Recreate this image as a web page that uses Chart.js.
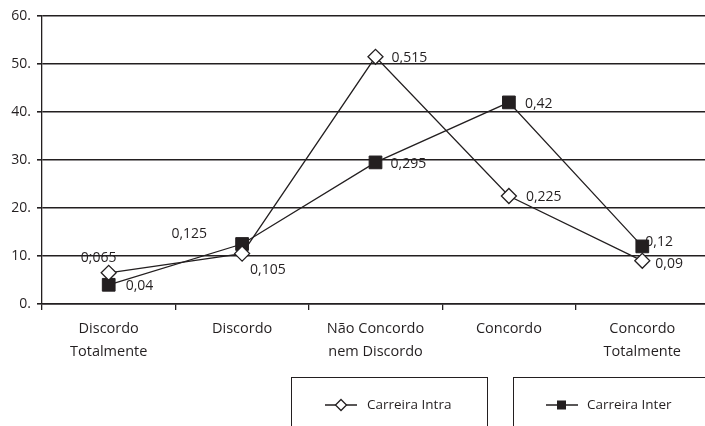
<!DOCTYPE html>
<html>
<head>
<meta charset="utf-8">
<script src="https://cdn.jsdelivr.net/npm/chart.js@4"></script>
<style>
  html, body { margin: 0; padding: 0; background: #fff; overflow: hidden; }
  #wrap { position: relative; width: 719px; height: 426px; }
</style>
</head>
<body>
<div id="wrap"><canvas id="lineChart"></canvas></div>
<script>
// Categories and values (percent)
const categories = [
    ['Discordo', 'Totalmente'],
    'Discordo',
    ['Não Concordo', 'nem Discordo'],
    'Concordo',
    ['Concordo', 'Totalmente']
];
const intraValues = [6.5, 10.5, 51.5, 22.5, 9];
const interValues = [4, 12.5, 29.5, 42, 12];
const intraLabels = ['0;065', '0,105', '0,515', '0,225', '0,09'];
const interLabels = ['0,04', '0,125', '0,295', '0,42', '0,12'];
const yTicks = [0, 10, 20, 30, 40, 50, 60];

const INK = '#231f20';
const FONT = '"Open Sans", "Noto Sans", sans-serif';

// label placement relative to the point: [dx, dy, align]
const intraLabelPos = [[-10, -15, 'center'], [8, 16, 'left'], [16, 1, 'left'], [17, 1, 'left'], [13, 3, 'left']];
const interLabelPos = [[17, 1, 'left'], [-35, -10, 'right'], [15, 2, 'left'], [16, 2, 'left'], [3, -4, 'left']];

const pointLabels = {
    id: 'pointLabels',
    afterDatasetsDraw(chart) {
        const ctx = chart.ctx;
        ctx.save();
        ctx.font = '14px ' + FONT;
        ctx.fillStyle = INK;
        ctx.textBaseline = 'middle';
        const sets = [[0, intraLabels, intraLabelPos], [1, interLabels, interLabelPos]];
        sets.forEach(([di, texts, pos]) => {
            chart.getDatasetMeta(di).data.forEach((pt, i) => {
                ctx.textAlign = pos[i][2];
                ctx.fillText(texts[i], pt.x + pos[i][0], pt.y + pos[i][1]);
            });
        });
        ctx.restore();
    }
};

const boxLegend = {
    id: 'boxLegend',
    afterDraw(chart) {
        const ctx = chart.ctx;
        ctx.save();
        ctx.strokeStyle = INK;
        ctx.lineWidth = 1;
        ctx.strokeRect(291.5, 377.5, 196, 60);
        ctx.strokeRect(513.5, 377.5, 210, 60);

        const y = 405;
        ctx.lineWidth = 1.3;
        ctx.beginPath();
        ctx.moveTo(325, y); ctx.lineTo(357, y);
        ctx.moveTo(546, y); ctx.lineTo(578, y);
        ctx.stroke();

        ctx.fillStyle = '#fff';
        ctx.beginPath();
        ctx.moveTo(341, y - 5.5); ctx.lineTo(346.5, y); ctx.lineTo(341, y + 5.5); ctx.lineTo(335.5, y);
        ctx.closePath();
        ctx.fill(); ctx.stroke();

        ctx.fillStyle = INK;
        ctx.fillRect(557, y - 4.5, 9, 9);

        ctx.font = '13.5px ' + FONT;
        ctx.textBaseline = 'middle';
        ctx.textAlign = 'left';
        ctx.fillText('Carreira Intra', 367, y);
        ctx.fillText('Carreira Inter', 587, y);
        ctx.restore();
    }
};

new Chart(document.getElementById('lineChart'), {
    type: 'line',
    data: {
        labels: categories,
        datasets: [
            {
                label: 'Carreira Intra',
                data: intraValues,
                borderColor: INK,
                borderWidth: 1.3,
                pointStyle: 'rectRot',
                pointRadius: 7.5,
                pointBackgroundColor: '#fff',
                pointBorderColor: INK,
                pointBorderWidth: 1.3,
                tension: 0
            },
            {
                label: 'Carreira Inter',
                data: interValues,
                borderColor: INK,
                borderWidth: 1.3,
                pointStyle: 'rect',
                pointRadius: 9,
                pointBackgroundColor: INK,
                pointBorderColor: INK,
                pointBorderWidth: 1,
                tension: 0
            }
        ]
    },
    options: {
        responsive: true,
        maintainAspectRatio: false,
        animation: false,
        layout: { padding: { top: 16, right: 0, left: 0, bottom: 0 } },
        plugins: {
            legend: { display: false },
            tooltip: { enabled: false }
        },
        scales: {
            x: {
                offset: true,
                afterFit: function(scale) { scale.height = 122; },
                grid: {
                    offset: true,
                    drawOnChartArea: false,
                    color: INK,
                    tickLength: 6,
                    lineWidth: 1.3
                },
                border: { color: INK, width: 1.5 },
                ticks: {
                    color: INK,
                    padding: 8,
                    maxRotation: 0,
                    font: { family: FONT, size: 14.5, lineHeight: 1.55 }
                }
            },
            y: {
                min: 0,
                max: 60,
                afterFit: function(scale) { scale.width = 42; },
                afterBuildTicks: function(scale) {
                    scale.ticks = yTicks.map(v => ({ value: v }));
                },
                grid: {
                    color: INK,
                    lineWidth: 1.6,
                    tickLength: 5
                },
                border: { color: INK, width: 1.3 },
                ticks: {
                    color: INK,
                    padding: 6,
                    font: { family: FONT, size: 14 },
                    callback: function(value) { return value + '.'; }
                }
            }
        }
    },
    plugins: [pointLabels, boxLegend]
});
</script>
</body>
</html>
